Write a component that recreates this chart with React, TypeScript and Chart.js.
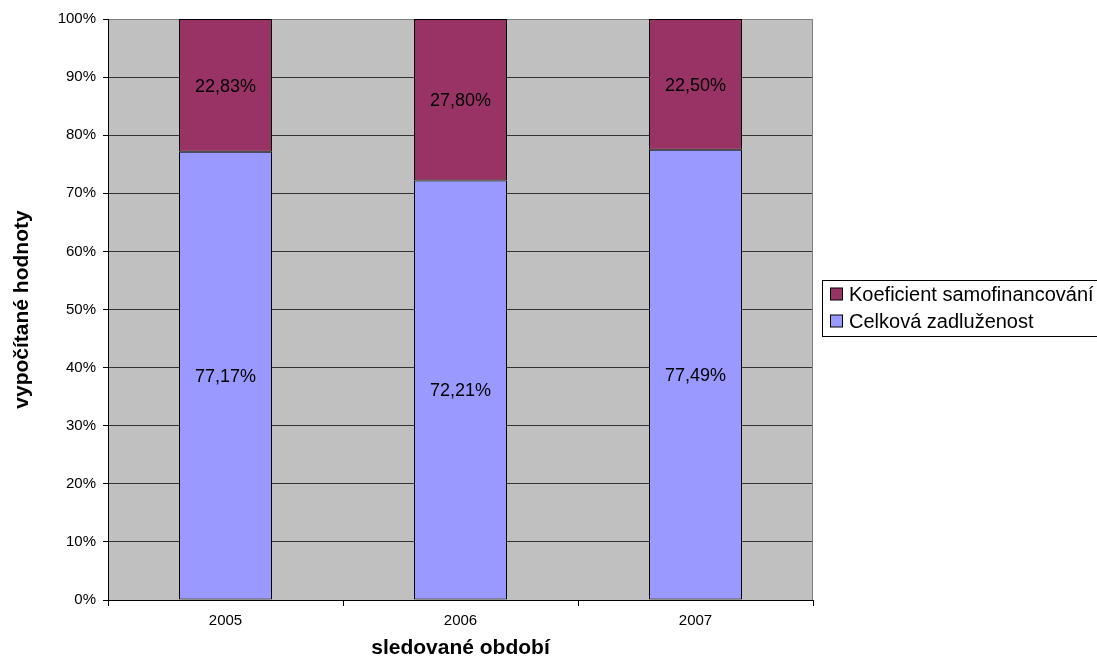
import React, { useEffect, useRef } from "react";
import { Chart, registerables } from "chart.js";

Chart.register(...registerables);

// Periods on the x axis
const years = ["2005", "2006", "2007"];
// Share of total indebtedness (%)
const celkovaZadluzenost = [77.17, 72.21, 77.49];
// Self-financing ratio (%)
const koeficientSamofinancovani = [22.83, 27.8, 22.5];
// Y axis tick values
const yTicks = [0, 10, 20, 30, 40, 50, 60, 70, 80, 90, 100];

const FONT = "Arial, 'Liberation Sans', sans-serif";

const fmt = (v: number) => v.toFixed(2).replace(".", ",") + "%";

// Grey plot background and the grey frame on the right
const plotBackground = {
  id: "plotBackground",
  beforeDraw(chart: any) {
    const { ctx, chartArea: a } = chart;
    ctx.save();
    ctx.fillStyle = "#C0C0C0";
    ctx.fillRect(a.left, a.top, a.right - a.left, a.bottom - a.top);
    ctx.restore();
  },
  afterDraw(chart: any) {
    const { ctx, chartArea: a } = chart;
    ctx.save();
    ctx.strokeStyle = "#808080";
    ctx.lineWidth = 1;
    ctx.beginPath();
    const x = Math.round(a.right) - 0.5;
    ctx.moveTo(x, a.top);
    ctx.lineTo(x, a.bottom);
    ctx.stroke();
    ctx.restore();
  },
};

// Value labels centred in each stacked segment
const segmentLabels = {
  id: "segmentLabels",
  afterDatasetsDraw(chart: any) {
    const { ctx } = chart;
    ctx.save();
    ctx.font = `18px ${FONT}`;
    ctx.fillStyle = "#000";
    ctx.textAlign = "center";
    ctx.textBaseline = "middle";
    chart.data.datasets.forEach((ds: any, i: number) => {
      const meta = chart.getDatasetMeta(i);
      meta.data.forEach((bar: any, j: number) => {
        const { x, y, base } = bar.getProps(["x", "y", "base"], true);
        ctx.fillText(fmt(ds.data[j]), x, (y + base) / 2 + 1.5);
      });
    });
    ctx.restore();
  },
};

// Framed legend listing the series top-down as they are stacked
const boxedLegend = {
  id: "boxedLegend",
  afterDraw(chart: any) {
    const { ctx } = chart;
    const left = 822.5;
    const top = 280.5;
    ctx.save();
    ctx.strokeStyle = "#000";
    ctx.lineWidth = 1;
    ctx.strokeRect(left, top, 400, 56);
    ctx.font = `20px ${FONT}`;
    ctx.textBaseline = "middle";
    ctx.textAlign = "left";
    const items = chart.data.datasets.slice().reverse();
    items.forEach((ds: any, k: number) => {
      const cy = 294 + k * 27;
      ctx.fillStyle = ds.backgroundColor;
      ctx.fillRect(830.5, cy - 6, 12, 12);
      ctx.strokeRect(830.5, cy - 6, 12, 12);
      ctx.fillStyle = "#000";
      ctx.fillText(ds.label, 849, cy + 1);
    });
    ctx.restore();
  },
};

export default function App() {
  const canvasRef = useRef<HTMLCanvasElement | null>(null);

  useEffect(() => {
    if (!canvasRef.current) return;
    const chart = new Chart(canvasRef.current, {
      type: "bar",
      data: {
        labels: years,
        datasets: [
          {
            label: "Celková zadluženost",
            data: celkovaZadluzenost,
            backgroundColor: "#9999FF",
            borderColor: "#000",
            borderWidth: 1,
            borderSkipped: false,
          },
          {
            label: "Koeficient samofinancování",
            data: koeficientSamofinancovani,
            backgroundColor: "#993366",
            borderColor: "#000",
            borderWidth: 1,
            borderSkipped: false,
          },
        ],
      },
      options: {
        animation: false,
        responsive: false,
        maintainAspectRatio: false,
        layout: { padding: { top: 19, right: 284, left: 0, bottom: 0 } },
        datasets: { bar: { barPercentage: 93 / 235, categoryPercentage: 1 } },
        plugins: {
          legend: { display: false },
          tooltip: { enabled: false },
        },
        scales: {
          x: {
            stacked: true,
            offset: true,
            grid: {
              offset: true,
              drawOnChartArea: false,
              drawTicks: true,
              tickLength: 6,
              tickColor: "#000",
            },
            border: { color: "#000", width: 1 },
            ticks: {
              color: "#000",
              font: { family: FONT, size: 15 },
              padding: 6,
            },
            title: {
              display: true,
              text: "sledované období",
              color: "#000",
              font: { family: FONT, size: 21, weight: "bold" },
              padding: { top: 0, bottom: 1 },
            },
            afterFit(scale: any) {
              scale.height = 62;
            },
          },
          y: {
            stacked: true,
            min: 0,
            max: 100,
            afterBuildTicks(scale: any) {
              scale.ticks = yTicks.map((v) => ({ value: v }));
            },
            grid: {
              color: (c: any) =>
                c.tick && c.tick.value === 100 ? "#808080" : "#333333",
              lineWidth: 1,
              drawTicks: true,
              tickLength: 5,
              tickColor: "#000",
            },
            border: { color: "#000", width: 1 },
            ticks: {
              color: "#000",
              font: { family: FONT, size: 15 },
              padding: 7,
              callback: (v: any) => v + "%",
            },
            title: {
              display: true,
              text: "vypočítané hodnoty",
              color: "#000",
              font: { family: FONT, size: 21, weight: "bold" },
              padding: { top: 10, bottom: 0 },
            },
            afterFit(scale: any) {
              scale.width = 108;
            },
          },
        },
      },
      plugins: [plotBackground, segmentLabels, boxedLegend],
    });
    return () => chart.destroy();
  }, []);

  return (
    <div style={{ position: "absolute", left: 0, top: 0, width: 1097, height: 662 }}>
      <canvas ref={canvasRef} width={1097} height={662} style={{ display: "block" }} />
    </div>
  );
}
